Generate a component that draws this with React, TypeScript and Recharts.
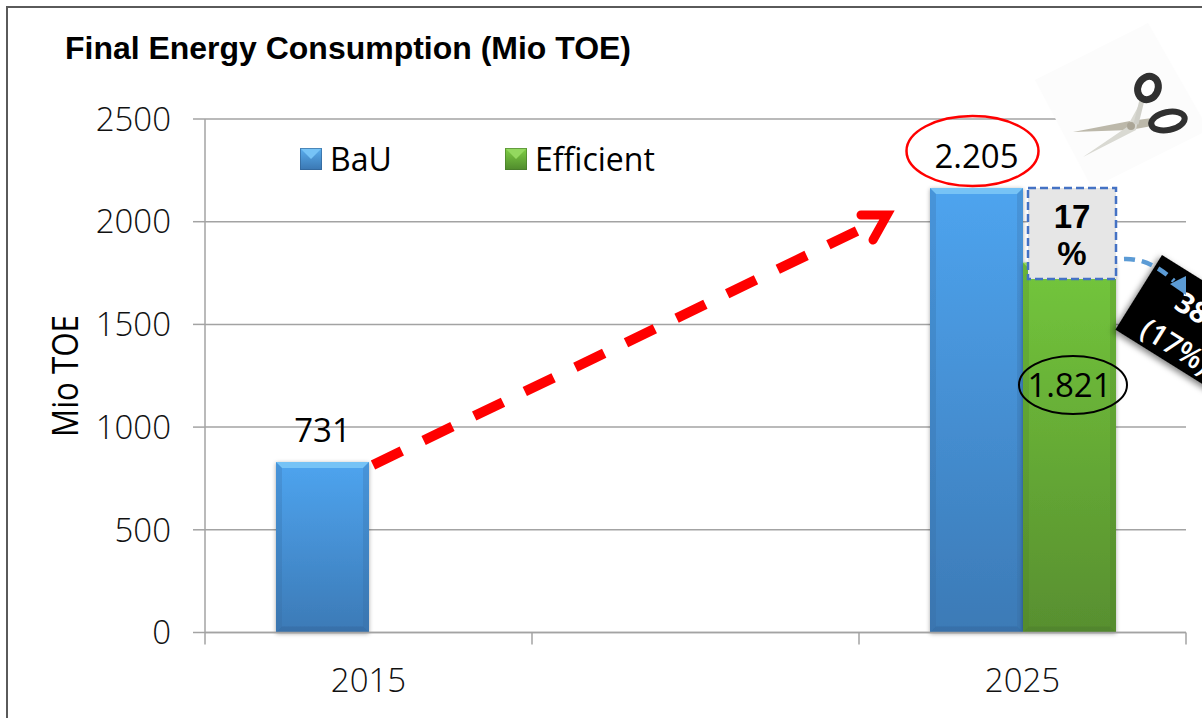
import { Bar, BarChart, CartesianGrid, LabelList, Legend, XAxis, YAxis } from "recharts";

const years = ["2015", "", "2025"];
const bauValues = [830, null, 2164];
const efficientValues = [null, null, 1800];
const bauLabels = ["731", null, "2.205"];
const efficientLabels = [null, null, "1.821"];
const yTicks = [0, 500, 1000, 1500, 2000, 2500];

const data = years.map((year, i) => ({
  year,
  bau: bauValues[i],
  efficient: efficientValues[i],
  bauLabel: bauLabels[i],
  efficientLabel: efficientLabels[i],
}));

const W = 1202;
const H = 718;
const BAND = 327;
const GRID = "#a3a3a3";
const FONT = "'Open Sans', sans-serif";
const ARIAL = "'Liberation Sans', Arial, sans-serif";

const palettes = {
  blue: { id: "blueFill", top: "#76c3f6", bottom: "#2f5f91", side: "#33689c" },
  green: { id: "greenFill", top: "#93d85f", bottom: "#44762a", side: "#4a8029" },
};

function BevelBar(props: any) {
  const { x, y, width, height, palette } = props;
  if (!height || height <= 0) return null;
  const p = palettes[palette as "blue" | "green"];
  const b = 6;
  const r = x + width;
  const e = y + height;
  return (
    <g filter="url(#barShadow)">
      <rect x={x} y={y} width={width} height={height} fill={`url(#${p.id})`} />
      <polygon points={`${x},${y} ${r},${y} ${r - b},${y + b} ${x + b},${y + b}`} fill={p.top} />
      <polygon points={`${x},${e} ${r},${e} ${r - b},${e - b} ${x + b},${e - b}`} fill={p.bottom} opacity={0.35} />
      <polygon points={`${x},${y} ${x + b},${y + b} ${x + b},${e - b} ${x},${e}`} fill={p.side} opacity={0.25} />
      <polygon points={`${r},${y} ${r - b},${y + b} ${r - b},${e - b} ${r},${e}`} fill={p.side} opacity={0.25} />
    </g>
  );
}

function YearTick(props: any) {
  const { x, y, payload, index } = props;
  return (
    <g>
      <line x1={x - BAND / 2} x2={x - BAND / 2} y1={y - 12} y2={y} stroke={GRID} strokeWidth={1.5} />
      {index === 2 && <line x1={x + BAND / 2} x2={x + BAND / 2} y1={y - 12} y2={y} stroke={GRID} strokeWidth={1.5} />}
      <text x={x} y={y + 47} textAnchor="middle" fontFamily={FONT} fontWeight={300} fontSize={33} fill="#111">
        {payload.value}
      </text>
    </g>
  );
}

function LegendIcon({ palette }: { palette: "blue" | "green" }) {
  const p = palettes[palette];
  return (
    <svg width={22} height={22} style={{ display: "block", flex: "none" }}>
      <defs>
        <linearGradient id={`${p.id}Icon`} x1="0" y1="0" x2="0" y2="1">
          <stop offset="0" stopColor={palette === "blue" ? "#5aaeee" : "#7fcf45"} />
          <stop offset="1" stopColor={palette === "blue" ? "#3a77b2" : "#4f8a2c"} />
        </linearGradient>
      </defs>
      <rect width={22} height={22} fill={`url(#${p.id}Icon)`} />
      <polygon points="0,0 22,0 11,11" fill={p.top} />
      <rect x={0.5} y={0.5} width={21} height={21} fill="none" stroke={p.bottom} strokeOpacity={0.6} />
    </svg>
  );
}

function ChartLegend() {
  const items = [
    { name: "BaU", palette: "blue" as const, width: 205 },
    { name: "Efficient", palette: "green" as const, width: 170 },
  ];
  return (
    <div style={{ position: "absolute", left: 0, top: 0, display: "flex", fontFamily: FONT, fontSize: 32, lineHeight: "40px", color: "#000" }}>
      {items.map((it) => (
        <div key={it.name} style={{ display: "flex", alignItems: "center", width: it.width, gap: 8 }}>
          <LegendIcon palette={it.palette} />
          <span>{it.name}</span>
        </div>
      ))}
    </div>
  );
}

function BauLabel(props: any) {
  const { x, y, width, value } = props;
  if (!value) return null;
  return (
    <text x={x + width / 2} y={y - 20} textAnchor="middle" fontFamily={FONT} fontSize={33} fill="#000">
      {value}
    </text>
  );
}

function EfficientLabel(props: any) {
  const { x, y, width, value } = props;
  if (!value) return null;
  return (
    <text x={x + width / 2} y={y + 134} textAnchor="middle" fontFamily={FONT} fontSize={33} fill="#000">
      {value}
    </text>
  );
}

function Annotations() {
  return (
    <svg width={W} height={H} style={{ position: "absolute", left: 0, top: 0, pointerEvents: "none" }}>
      <defs>
        <filter id="boxShadow" x="-10%" y="-10%" width="120%" height="125%">
          <feDropShadow dx={-1} dy={3} stdDeviation={3} floodColor="#000" floodOpacity={0.5} />
        </filter>
      </defs>
      {/* frame */}
      <path d="M7 718 V7 H1202" fill="none" stroke="#5a5a5a" strokeWidth={2} />

      <text x={65} y={59} fontFamily={ARIAL} fontWeight={700} fontSize={30.5} textLength={566} lengthAdjust="spacingAndGlyphs" fill="#000">
        Final Energy Consumption (Mio TOE)
      </text>
      <text transform="translate(78 437) rotate(-90)" fontFamily={FONT} fontSize={36} textLength={122} lengthAdjust="spacingAndGlyphs" fill="#000">
        Mio TOE
      </text>

      {/* scissors */}
      <polygon points="1035,80 1148,23 1202,118 1202,133 1092,188" fill="#fcfcfc" />
      <polygon points="1073,132 1130,121 1152,118 1152,126 1130,130" fill="#bcb8aa" />
      <polygon points="1083,157 1127,127 1139,105 1141,106 1136,130" fill="#d9d9d2" />
      <circle cx={1131} cy={126} r={4} fill="#aaa596" />
      <path d="M1136 124 L1142 100" stroke="#cfcfc8" strokeWidth={5} />
      <ellipse cx={1148} cy={88} rx={10} ry={12} transform="rotate(25 1148 88)" fill="#fff" stroke="#303030" strokeWidth={7} />
      <ellipse cx={1168} cy={121} rx={17} ry={9} transform="rotate(-12 1168 121)" fill="#fff" stroke="#303030" strokeWidth={6} />

      {/* reduction box */}
      <rect x={1028} y={188} width={88} height={91} fill="#e6e6e6" stroke="#4472c4" strokeWidth={2.5} strokeDasharray="8 4" />
      <text x={1072} y={228} textAnchor="middle" fontFamily={ARIAL} fontWeight={700} fontSize={33} fill="#000">17</text>
      <text x={1072} y={265} textAnchor="middle" fontFamily={ARIAL} fontWeight={700} fontSize={33} fill="#000">%</text>

      {/* black callout */}
      <g transform="translate(1162 255) rotate(32)">
        <rect x={0} y={0} width={140} height={88} fill="#000" filter="url(#boxShadow)" />
        <text x={37} y={39} fontFamily={FONT} fontWeight={700} fontSize={29} fill="#fff">38</text>
        <text x={22} y={80} fontFamily={FONT} fontWeight={600} fontSize={29} fill="#fff">(17%)</text>
      </g>
      <path d="M1124 259 Q1150 258 1174 281" fill="none" stroke="#5b9bd5" strokeWidth={4.5} strokeDasharray="11 7" />
      <polygon points="1170,284 1186,276 1186,295" fill="#5b9bd5" />

      {/* growth arrow */}
      <line x1={373} y1={465} x2={857} y2={231} stroke="#ff0000" strokeWidth={10} strokeDasharray="32 24.2" />
      <path d="M861 215 H887 L873 240" fill="none" stroke="#ff0000" strokeWidth={9} strokeLinecap="round" strokeLinejoin="miter" />

      <ellipse cx={972.5} cy={151} rx={66} ry={35} fill="none" stroke="#ff0000" strokeWidth={2.5} />
      <ellipse cx={1073} cy={385} rx={54} ry={29} fill="none" stroke="#000" strokeWidth={2} />
    </svg>
  );
}

export default function App() {
  return (
    <div style={{ position: "absolute", left: 0, top: 0, width: W, height: H, overflow: "hidden", background: "#fff" }}>
      <BarChart
        width={W}
        height={H}
        data={data}
        margin={{ top: 119, right: 16, bottom: 0, left: 0 }}
        barSize={93}
        barGap={0}
      >
        <defs>
          <linearGradient id="blueFill" x1="0" y1="0" x2="0" y2="1">
            <stop offset="0" stopColor="#4ea4ef" />
            <stop offset="1" stopColor="#3c7ab6" />
          </linearGradient>
          <linearGradient id="greenFill" x1="0" y1="0" x2="0" y2="1">
            <stop offset="0" stopColor="#73c63c" />
            <stop offset="1" stopColor="#588f2f" />
          </linearGradient>
          <filter id="barShadow" x="-10%" y="-5%" width="120%" height="110%">
            <feDropShadow dx={0} dy={1} stdDeviation={2} floodColor="#000" floodOpacity={0.35} />
          </filter>
        </defs>
        <CartesianGrid vertical={false} stroke={GRID} strokeWidth={1.5} />
        <XAxis
          dataKey="year"
          interval={0}
          height={85.5}
          tick={<YearTick />}
          tickLine={false}
          tickSize={12}
          tickMargin={0}
          axisLine={{ stroke: GRID, strokeWidth: 1.5 }}
        />
        <YAxis
          width={205}
          domain={[0, 2500]}
          ticks={yTicks}
          tickSize={12}
          tickMargin={22}
          tick={{ fill: "#111", fontSize: 33, fontFamily: FONT, fontWeight: 300 }}
          tickLine={{ stroke: GRID, strokeWidth: 1.5 }}
          axisLine={{ stroke: GRID, strokeWidth: 1.5 }}
        />
        <Legend
          content={<ChartLegend />}
          wrapperStyle={{ position: "absolute", left: 300, top: 139, width: 400, height: 0, bottom: "auto" }}
        />
        <Bar dataKey="bau" name="BaU" isAnimationActive={false} shape={<BevelBar palette="blue" />}>
          <LabelList dataKey="bauLabel" content={<BauLabel />} />
        </Bar>
        <Bar dataKey="efficient" name="Efficient" isAnimationActive={false} shape={<BevelBar palette="green" />}>
          <LabelList dataKey="efficientLabel" content={<EfficientLabel />} />
        </Bar>
      </BarChart>
      <Annotations />
    </div>
  );
}
